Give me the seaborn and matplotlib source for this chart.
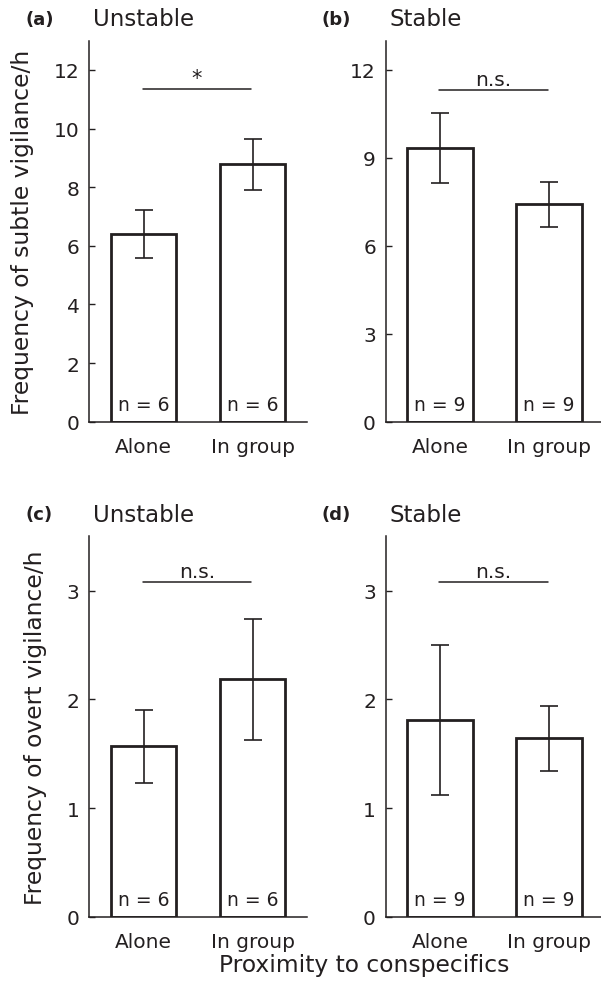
import matplotlib
matplotlib.use('Agg')
import matplotlib.pyplot as plt
import seaborn as sns
import pandas as pd

# ---------------- data ----------------
categories = ['Alone', 'In group']

subtle_unstable_mean = [6.42, 8.80]
subtle_unstable_low = [5.59, 7.92]
subtle_unstable_high = [7.23, 9.63]

subtle_stable_mean = [9.33, 7.42]
subtle_stable_low = [8.15, 6.64]
subtle_stable_high = [10.53, 8.18]

overt_unstable_mean = [1.57, 2.19]
overt_unstable_low = [1.23, 1.63]
overt_unstable_high = [1.90, 2.74]

overt_stable_mean = [1.81, 1.645]
overt_stable_low = [1.12, 1.34]
overt_stable_high = [2.50, 1.94]

n_unstable = [6, 6]
n_stable = [9, 9]

subtle_ticks_unstable = [0, 2, 4, 6, 8, 10, 12]
subtle_ticks_stable = [0, 3, 6, 9, 12]
overt_ticks = [0, 1, 2, 3]

panel_letters = ['(a)', '(b)', '(c)', '(d)']
panel_titles = ['Unstable', 'Stable', 'Unstable', 'Stable']
significance = ['*', 'n.s.', 'n.s.', 'n.s.']
sig_levels = [11.35, 11.32, 3.077, 3.077]

ylabel_subtle = 'Frequency of subtle vigilance/h'
ylabel_overt = 'Frequency of overt vigilance/h'
xlabel = 'Proximity to conspecifics'

# ---------------- style ----------------
sns.set_style('ticks')
plt.rcParams['font.family'] = ['DejaVu Sans']
INK = '#231f20'

fig = plt.figure(figsize=(6.01, 9.95), dpi=100)

positions = [
    [0.1486, 0.5752, 0.3622, 0.3829],
    [0.6418, 0.5752, 0.3622, 0.3829],
    [0.1486, 0.0777, 0.3622, 0.3823],
    [0.6418, 0.0777, 0.3622, 0.3823],
]

panels = [
    (subtle_unstable_mean, subtle_unstable_low, subtle_unstable_high, n_unstable, subtle_ticks_unstable, 13, ylabel_subtle),
    (subtle_stable_mean, subtle_stable_low, subtle_stable_high, n_stable, subtle_ticks_stable, 13, None),
    (overt_unstable_mean, overt_unstable_low, overt_unstable_high, n_unstable, overt_ticks, 3.5, ylabel_overt),
    (overt_stable_mean, overt_stable_low, overt_stable_high, n_stable, overt_ticks, 3.5, None),
]

for i, (pos, (mean, low, high, ns, ticks, ytop, ylab)) in enumerate(zip(positions, panels)):
    ax = fig.add_axes(pos)
    df = pd.DataFrame({'group': categories, 'value': mean})
    sns.barplot(data=df, x='group', y='value', ax=ax, color='white',
                edgecolor=INK, linewidth=2.0, width=0.6, errorbar=None,
                saturation=1)
    yerr = [[m - l for m, l in zip(mean, low)], [h - m for m, h in zip(mean, high)]]
    ax.errorbar(range(len(categories)), mean, yerr=yerr, fmt='none',
                ecolor=INK, elinewidth=1.2, capsize=6.4, capthick=1.2, zorder=5)
    ax.set_xlim(-0.5, 1.5)
    ax.set_ylim(0, ytop)
    ax.set_yticks(ticks)
    ax.set_yticklabels([str(t) for t in ticks])
    ax.tick_params(axis='y', direction='in', length=4, width=1.0, color=INK,
                   labelsize=14.5, pad=7, labelcolor=INK)
    ax.tick_params(axis='x', length=0, labelsize=14.5, pad=11, labelcolor=INK)
    ax.set_xlabel('')
    if ylab:
        ax.set_ylabel(ylab, fontsize=16.8, color=INK, labelpad=14)
    else:
        ax.set_ylabel('')
    for side in ['top', 'right']:
        ax.spines[side].set_visible(False)
    for side in ['left', 'bottom']:
        ax.spines[side].set_linewidth(1.1)
        ax.spines[side].set_color(INK)
    ax.set_facecolor('none')

    # n labels inside bars
    for j, n in enumerate(ns):
        ax.annotate(f'n = {n}', xy=(j, 0), xytext=(0, 12.5), textcoords='offset points',
                    ha='center', va='center', fontsize=13.5, color=INK)

    # significance line
    y = sig_levels[i]
    ax.plot([-0.01, 0.99], [y, y], color=INK, lw=1.1, clip_on=False)
    if significance[i] == '*':
        ax.annotate('*', xy=(0.49, y), xytext=(0, 1), textcoords='offset points',
                    ha='center', va='bottom', fontsize=15, color=INK)
    else:
        ax.annotate(significance[i], xy=(0.49, y), xytext=(0, 1.0), textcoords='offset points',
                    ha='center', va='bottom', fontsize=14.5, color=INK)

    # panel titles
    x0 = pos[0]
    top_px = (1 - (pos[1] + pos[3])) * 995
    title_y = 1 - (top_px - 22) / 995
    fig.text(x0 - 64 / 601, title_y, panel_letters[i], fontsize=13,
             fontweight='bold', ha='left', va='center', color=INK)
    fig.text(x0 + 4 / 601, title_y, panel_titles[i], fontsize=16.5,
             ha='left', va='center', color=INK)

fig.text(364 / 601, 1 - 966 / 995, xlabel, fontsize=16.8, ha='center', va='center', color=INK)

fig.savefig('out.png', dpi=100, facecolor='white')
